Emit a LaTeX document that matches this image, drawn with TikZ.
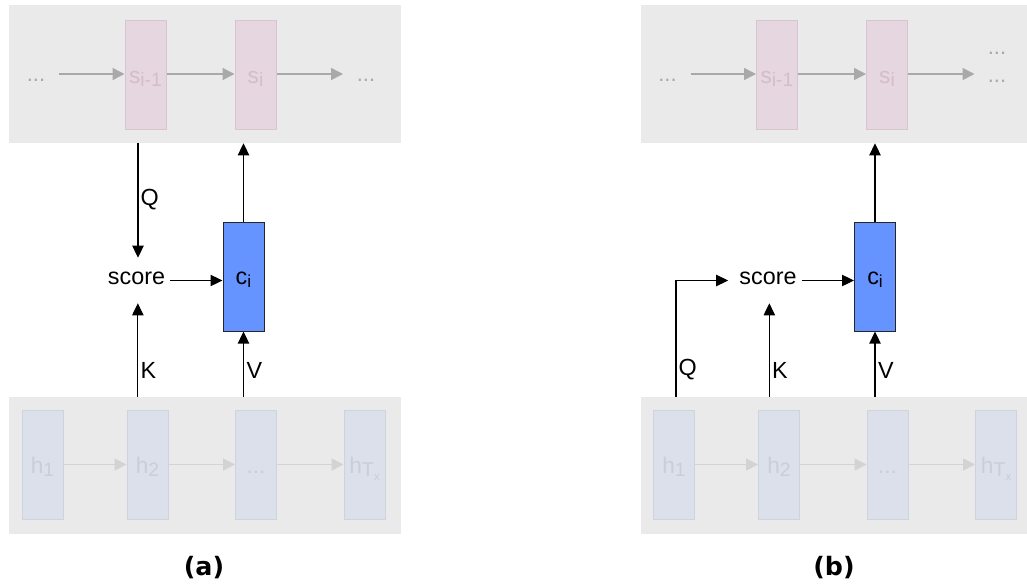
\documentclass[tikz,border=0pt]{standalone}
\usepackage{fontspec}
\setmainfont{Liberation Sans}
\newfontfamily\capfont{DejaVu Sans}
\usetikzlibrary{arrows.meta}

\definecolor{panelgray}{HTML}{EAEAEA}
\definecolor{pinkfill}{HTML}{E6D6DF}
\definecolor{pinkline}{HTML}{D8C5CF}
\definecolor{pinktext}{HTML}{D3BDC9}
\definecolor{hfill}{HTML}{DCE0EA}
\definecolor{hline}{HTML}{CED3DD}
\definecolor{htext}{HTML}{C9CED9}
\definecolor{darrow}{HTML}{A9A9A9}
\definecolor{larrow}{HTML}{D3D3D3}
\definecolor{cfill}{HTML}{6593FF}

% lowered, slightly smaller index
\newcommand\lowsub[2][14.5]{\raisebox{-2.5pt}{\fontsize{#1}{#1}\selectfont #2}}

\tikzset{
  panel/.style={rectangle, fill=panelgray, inner sep=0,
    minimum width=392*0.75pt, minimum height=138*0.75pt},
  sbox/.style={rectangle, fill=pinkfill, draw=pinkline, line width=0.75pt,
    minimum width=41*0.75pt, minimum height=109*0.75pt, inner sep=0,
    text=pinktext, font=\fontsize{17}{18}\selectfont,
    text height=13.5pt, text depth=0pt},
  hbox/.style={rectangle, fill=hfill, draw=hline, line width=0.75pt,
    minimum width=41*0.75pt, minimum height=109*0.75pt, inner sep=0,
    text=htext, font=\fontsize{17}{18}\selectfont,
    text height=12.75pt, text depth=0pt},
  cbox/.style={rectangle, fill=cfill, draw=black!85, line width=0.75pt,
    minimum width=41*0.75pt, minimum height=109*0.75pt, inner sep=0,
    font=\fontsize{17.5}{18}\selectfont, text height=11.25pt, text depth=0pt},
  scorenode/.style={inner xsep=3.75pt, inner ysep=0pt, anchor=base,
    text height=19.5pt, text depth=14.25pt, font=\fontsize{17.5}{18}\selectfont},
  dots/.style={inner sep=0pt, text=darrow, font=\fontsize{16.5}{18}\selectfont},
  lbl/.style={anchor=west, inner sep=1pt, font=\fontsize{17.5}{18}\selectfont},
  caption/.style={font=\capfont\bfseries\fontsize{19}{20}\selectfont},
  garrow/.style={draw=darrow, line width=1.1pt,
    -{Triangle[length=9pt,width=9pt,fill=darrow]}},
  lgarrow/.style={draw=larrow, line width=1.1pt,
    -{Triangle[length=9pt,width=9pt,fill=larrow]}},
  karrow/.style={draw=black, line width=0.85pt,
    -{Triangle[length=9pt,width=8.5pt]}},
}

% the parts shared by both attention panels; #1 is the name prefix
\newcommand\attpanel[1]{%
  % decoder strip
  \node[panel] (#1top) at (205,74) {};
  \node[sbox] (#1sp) at (145.5,74.5) {s\lowsub{i-1}};
  \node[sbox] (#1s)  at (255.5,74.5) {s\lowsub{i}};
  \coordinate (#1in)  at (59,74);
  \coordinate (#1out) at (343,74);
  \draw[garrow] (#1in) -- (#1in -| #1sp.west);
  \draw[garrow] (#1sp.east |- #1in) -- (#1s.west |- #1in);
  \draw[garrow] (#1s.east |- #1in) -- (#1out);
  \node[dots] (#1ld) at (36,80) {...};
  % encoder strip
  \node[panel, minimum height=137*0.75pt] (#1bot) at (205,465.5) {};
  \node[hbox] (#1h1) at (42.5,464.5) {h\lowsub{1}};
  \node[hbox] (#1h2) at (147.5,464.5) {h\lowsub{2}};
  \node[hbox] (#1hd) at (256,464.5) {...};
  \node[hbox] (#1hT) at (364.5,464.5)
    {h\lowsub[15]{T\raisebox{-3pt}{\fontsize{8.5}{8.5}\selectfont x}}};
  \draw[lgarrow] (#1h1) -- (#1h2);
  \draw[lgarrow] (#1h2) -- (#1hd);
  \draw[lgarrow] (#1hd) -- (#1hT);
  % context vector and score
  \node[cbox] (#1c) at (243.5,276.5) {c\lowsub[13]{i}};
  \node[scorenode] (#1score) at (136.5,284) {score};
  \draw[karrow] (#1score.east) -- (#1score.east -| #1c.west);
  \draw[karrow] (#1c.north) -- (#1c.north |- #1top.south);
  \draw[karrow] (#1c.south |- #1bot.north) -- (#1c.south);
  \draw[karrow] ([xshift=1pt]#1score.south |- #1bot.north) -- ([xshift=1pt]#1score.south);
  \node[lbl] (#1K) at (139,370) {K};
  \node[lbl] (#1V) at (245,370) {V};
}

\begin{document}
\begin{tikzpicture}[x=0.75pt, y=-0.75pt]
  \useasboundingbox (0,0) rectangle (1027,586);
  \clip (0,0) rectangle (1027,586);

  % (a): query from the previous decoder state
  \attpanel{a}
  \node[dots] (ard) at (366,80) {...};
  \draw[karrow] (asp.south |- atop.south) ++(-7.5,0) coordinate (aQs)
    -- (aQs |- ascore.north);
  \node[lbl] (aQ) at (139,200) {Q};
  \node[caption] (acap) at (204,568) {(a)};

  % (b): query from the encoder side
  \begin{scope}[shift={(631.5,0)}]
    \attpanel{b}
    \node[dots] (brd1) at (365.5,53) {...};
    \node[dots] (brd2) at (365.5,81) {...};
    \coordinate (bQs) at (44.5,397);
    \draw[karrow] (bQs) |- ([xshift=-4.5pt]bscore.west);
    \node[lbl] (bQ) at (45.5,370) {Q};
  \end{scope}
  \node[caption] (bcap) at (834,568) {(b)};
\end{tikzpicture}
\end{document}
